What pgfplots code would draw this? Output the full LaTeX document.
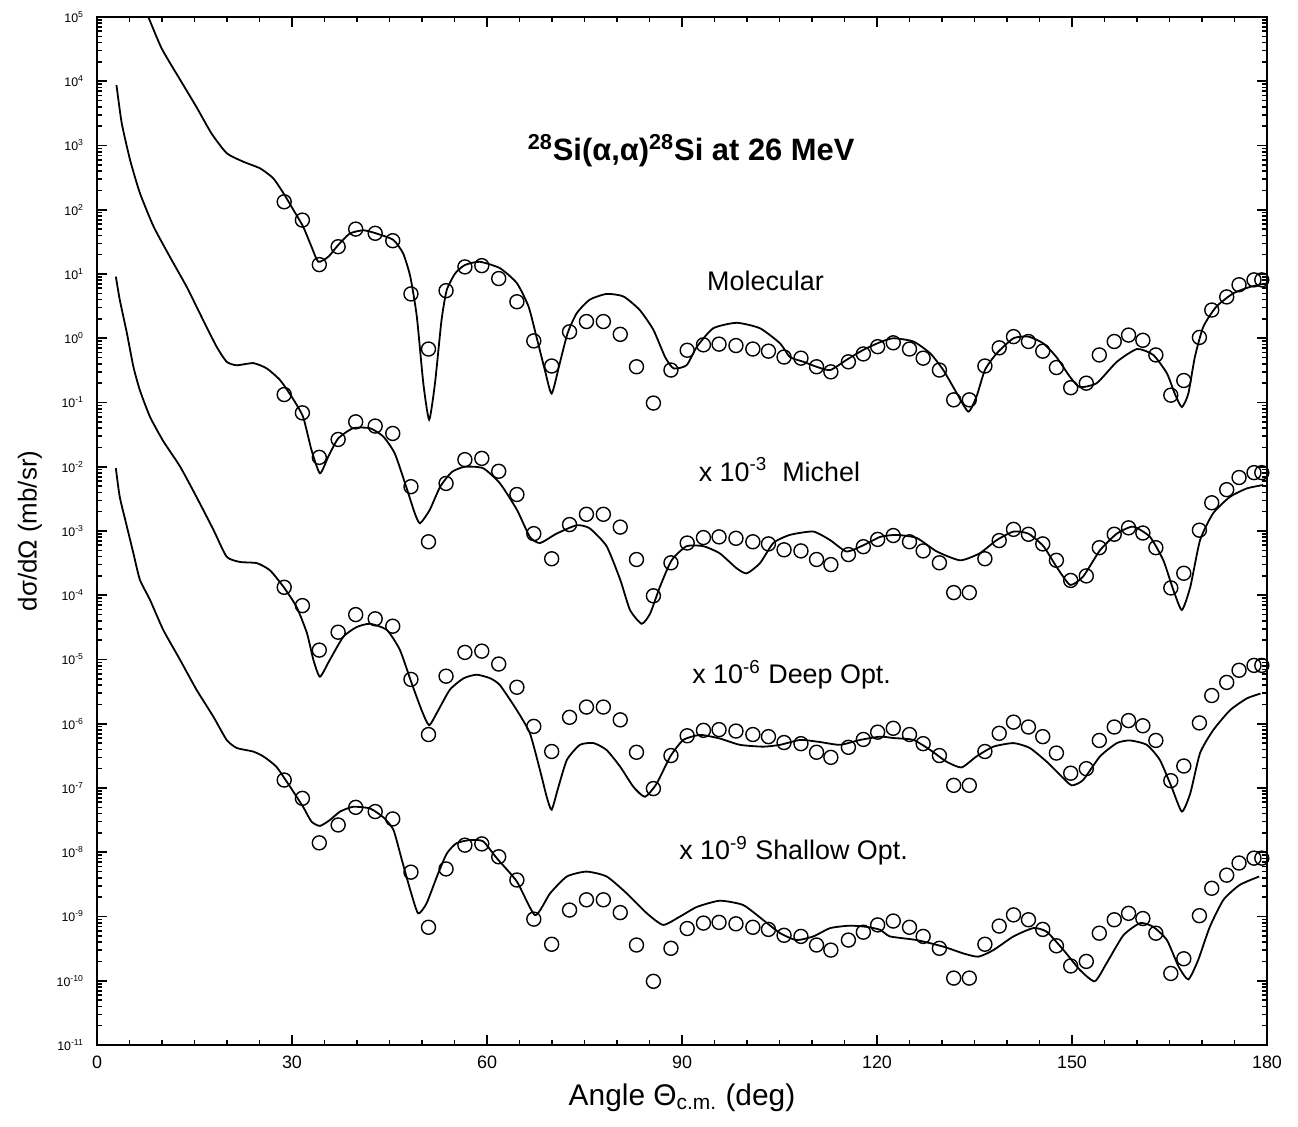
\documentclass[border=0pt]{standalone}
\usepackage{fontspec}
\setmainfont{Liberation Sans}
\usepackage{pgfplots}
\usepackage{pgfplotstable}
\pgfplotsset{compat=1.18}

% experimental data (Molecular panel, unscaled)
\pgfplotstableread[row sep=\\]{
x y\\
28.8 1.33e2\\ 31.6 6.9e1\\ 34.2 1.4e1\\ 37.1 2.66e1\\ 39.8 5.0e1\\ 42.8 4.3e1\\ 45.5 3.3e1\\ 48.3 4.9e0\\
51.0 6.8e-1\\ 53.7 5.5e0\\ 56.6 1.29e1\\ 59.2 1.35e1\\ 61.8 8.5e0\\ 64.6 3.7e0\\ 67.2 9.1e-1\\ 69.95 3.7e-1\\
72.7 1.26e0\\ 75.3 1.82e0\\ 77.9 1.82e0\\ 80.5 1.15e0\\ 83.0 3.6e-1\\ 85.6 9.8e-2\\ 88.3 3.2e-1\\ 90.8 6.5e-1\\
93.3 7.9e-1\\ 95.7 8.1e-1\\ 98.3 7.7e-1\\ 100.9 6.8e-1\\ 103.3 6.3e-1\\ 105.7 5.1e-1\\ 108.3 4.9e-1\\ 110.7 3.6e-1\\
112.9 3.0e-1\\ 115.6 4.3e-1\\ 117.9 5.7e-1\\ 120.1 7.4e-1\\ 122.5 8.5e-1\\ 125.0 6.8e-1\\ 127.1 4.9e-1\\ 129.6 3.2e-1\\
131.8 1.1e-1\\ 134.2 1.1e-1\\ 136.6 3.7e-1\\ 138.8 7.1e-1\\ 141.0 1.06e0\\ 143.3 8.9e-1\\ 145.5 6.3e-1\\ 147.6 3.5e-1\\
149.8 1.7e-1\\ 152.2 2.0e-1\\ 154.2 5.5e-1\\ 156.5 8.9e-1\\ 158.7 1.12e0\\ 160.9 9.3e-1\\ 162.9 5.5e-1\\ 165.2 1.3e-1\\
167.2 2.2e-1\\ 169.6 1.03e0\\ 171.5 2.75e0\\ 173.8 4.4e0\\ 175.7 6.8e0\\ 178.0 8.1e0\\ 179.2 8.1e0\\
}\dataA

% experimental data x 10^-3
\pgfplotstableread[row sep=\\]{
x y\\
28.8 1.33e-1\\ 31.6 6.9e-2\\ 34.2 1.4e-2\\ 37.1 2.66e-2\\ 39.8 5.0e-2\\ 42.8 4.3e-2\\ 45.5 3.3e-2\\ 48.3 4.9e-3\\
51.0 6.8e-4\\ 53.7 5.5e-3\\ 56.6 1.29e-2\\ 59.2 1.35e-2\\ 61.8 8.5e-3\\ 64.6 3.7e-3\\ 67.2 9.1e-4\\ 69.95 3.7e-4\\
72.7 1.26e-3\\ 75.3 1.82e-3\\ 77.9 1.82e-3\\ 80.5 1.15e-3\\ 83.0 3.6e-4\\ 85.6 9.8e-5\\ 88.3 3.2e-4\\ 90.8 6.5e-4\\
93.3 7.9e-4\\ 95.7 8.1e-4\\ 98.3 7.7e-4\\ 100.9 6.8e-4\\ 103.3 6.3e-4\\ 105.7 5.1e-4\\ 108.3 4.9e-4\\ 110.7 3.6e-4\\
112.9 3.0e-4\\ 115.6 4.3e-4\\ 117.9 5.7e-4\\ 120.1 7.4e-4\\ 122.5 8.5e-4\\ 125.0 6.8e-4\\ 127.1 4.9e-4\\ 129.6 3.2e-4\\
131.8 1.1e-4\\ 134.2 1.1e-4\\ 136.6 3.7e-4\\ 138.8 7.1e-4\\ 141.0 1.06e-3\\ 143.3 8.9e-4\\ 145.5 6.3e-4\\ 147.6 3.5e-4\\
149.8 1.7e-4\\ 152.2 2.0e-4\\ 154.2 5.5e-4\\ 156.5 8.9e-4\\ 158.7 1.12e-3\\ 160.9 9.3e-4\\ 162.9 5.5e-4\\ 165.2 1.3e-4\\
167.2 2.2e-4\\ 169.6 1.03e-3\\ 171.5 2.75e-3\\ 173.8 4.4e-3\\ 175.7 6.8e-3\\ 178.0 8.1e-3\\ 179.2 8.1e-3\\
}\dataB

% experimental data x 10^-6
\pgfplotstableread[row sep=\\]{
x y\\
28.8 1.33e-4\\ 31.6 6.9e-5\\ 34.2 1.4e-5\\ 37.1 2.66e-5\\ 39.8 5.0e-5\\ 42.8 4.3e-5\\ 45.5 3.3e-5\\ 48.3 4.9e-6\\
51.0 6.8e-7\\ 53.7 5.5e-6\\ 56.6 1.29e-5\\ 59.2 1.35e-5\\ 61.8 8.5e-6\\ 64.6 3.7e-6\\ 67.2 9.1e-7\\ 69.95 3.7e-7\\
72.7 1.26e-6\\ 75.3 1.82e-6\\ 77.9 1.82e-6\\ 80.5 1.15e-6\\ 83.0 3.6e-7\\ 85.6 9.8e-8\\ 88.3 3.2e-7\\ 90.8 6.5e-7\\
93.3 7.9e-7\\ 95.7 8.1e-7\\ 98.3 7.7e-7\\ 100.9 6.8e-7\\ 103.3 6.3e-7\\ 105.7 5.1e-7\\ 108.3 4.9e-7\\ 110.7 3.6e-7\\
112.9 3.0e-7\\ 115.6 4.3e-7\\ 117.9 5.7e-7\\ 120.1 7.4e-7\\ 122.5 8.5e-7\\ 125.0 6.8e-7\\ 127.1 4.9e-7\\ 129.6 3.2e-7\\
131.8 1.1e-7\\ 134.2 1.1e-7\\ 136.6 3.7e-7\\ 138.8 7.1e-7\\ 141.0 1.06e-6\\ 143.3 8.9e-7\\ 145.5 6.3e-7\\ 147.6 3.5e-7\\
149.8 1.7e-7\\ 152.2 2.0e-7\\ 154.2 5.5e-7\\ 156.5 8.9e-7\\ 158.7 1.12e-6\\ 160.9 9.3e-7\\ 162.9 5.5e-7\\ 165.2 1.3e-7\\
167.2 2.2e-7\\ 169.6 1.03e-6\\ 171.5 2.75e-6\\ 173.8 4.4e-6\\ 175.7 6.8e-6\\ 178.0 8.1e-6\\ 179.2 8.1e-6\\
}\dataC

% experimental data x 10^-9
\pgfplotstableread[row sep=\\]{
x y\\
28.8 1.33e-7\\ 31.6 6.9e-8\\ 34.2 1.4e-8\\ 37.1 2.66e-8\\ 39.8 5.0e-8\\ 42.8 4.3e-8\\ 45.5 3.3e-8\\ 48.3 4.9e-9\\
51.0 6.8e-10\\ 53.7 5.5e-9\\ 56.6 1.29e-8\\ 59.2 1.35e-8\\ 61.8 8.5e-9\\ 64.6 3.7e-9\\ 67.2 9.1e-10\\ 69.95 3.7e-10\\
72.7 1.26e-9\\ 75.3 1.82e-9\\ 77.9 1.82e-9\\ 80.5 1.15e-9\\ 83.0 3.6e-10\\ 85.6 9.8e-11\\ 88.3 3.2e-10\\ 90.8 6.5e-10\\
93.3 7.9e-10\\ 95.7 8.1e-10\\ 98.3 7.7e-10\\ 100.9 6.8e-10\\ 103.3 6.3e-10\\ 105.7 5.1e-10\\ 108.3 4.9e-10\\ 110.7 3.6e-10\\
112.9 3.0e-10\\ 115.6 4.3e-10\\ 117.9 5.7e-10\\ 120.1 7.4e-10\\ 122.5 8.5e-10\\ 125.0 6.8e-10\\ 127.1 4.9e-10\\ 129.6 3.2e-10\\
131.8 1.1e-10\\ 134.2 1.1e-10\\ 136.6 3.7e-10\\ 138.8 7.1e-10\\ 141.0 1.06e-9\\ 143.3 8.9e-10\\ 145.5 6.3e-10\\ 147.6 3.5e-10\\
149.8 1.7e-10\\ 152.2 2.0e-10\\ 154.2 5.5e-10\\ 156.5 8.9e-10\\ 158.7 1.12e-9\\ 160.9 9.3e-10\\ 162.9 5.5e-10\\ 165.2 1.3e-10\\
167.2 2.2e-10\\ 169.6 1.03e-9\\ 171.5 2.75e-9\\ 173.8 4.4e-9\\ 175.7 6.8e-9\\ 178.0 8.1e-9\\ 179.2 8.1e-9\\
}\dataD

% Molecular calculation
\pgfplotstableread[row sep=\\]{
x y\\
7.0 1.62e5\\ 7.9 1.0e5\\ 9.95 3.24e4\\ 12.8 1.05e4\\ 15.3 3.98e3\\ 17.6 1.55e3\\ 19.95 7.6e2\\ 22.5 5.6e2\\
25.1 4.4e2\\ 27.1 3.1e2\\ 28.7 1.8e2\\ 30.2 1.0e2\\ 31.7 5.5e1\\ 33.0 2.66e1\\ 34.05 1.55e1\\ 35.6 1.86e1\\
37.1 2.82e1\\ 38.9 4.27e1\\ 41.0 4.79e1\\ 43.0 4.27e1\\ 45.6 3.39e1\\ 47.1 2.09e1\\ 48.2 9.1\\ 49.2 2.19\\
50.2 2.0e-1\\ 51.1 5.4e-2\\ 52.0 2.0e-1\\ 53.0 1.9\\ 53.8 5.6\\ 55.1 1.02e1\\ 56.6 1.38e1\\ 58.9 1.55e1\\
62.0 1.23e1\\ 64.6 7.2\\ 66.4 3.1\\ 67.6 1.06\\ 68.9 3.2e-1\\ 69.95 1.38e-1\\ 71.2 4.1e-1\\ 72.4 1.2\\
73.8 2.45\\ 75.8 3.98\\ 78.4 4.9\\ 81.0 4.47\\ 83.5 2.75\\ 85.6 1.35\\ 87.4 5.1e-1\\ 88.7 3.4e-1\\
90.7 3.8e-1\\ 92.3 7.4e-1\\ 94.8 1.43\\ 98.4 1.74\\ 102.0 1.43\\ 105.1 8.3e-1\\ 106.6 5.1e-1\\ 108.7 4.3e-1\\
110.7 3.6e-1\\ 112.8 3.2e-1\\ 115.3 4.6e-1\\ 117.9 6.6e-1\\ 120.5 8.7e-1\\ 122.5 1.0\\ 125.6 8.9e-1\\ 128.2 5.8e-1\\
130.2 3.2e-1\\ 132.3 1.38e-1\\ 134.05 7.2e-2\\ 135.3 1.23e-1\\ 136.6 3.2e-1\\ 138.4 5.8e-1\\ 141.0 1.0\\ 143.3 1.06\\
145.6 8.3e-1\\ 147.6 5.1e-1\\ 149.7 2.5e-1\\ 151.2 1.74e-1\\ 153.8 2.0e-1\\ 156.9 4.3e-1\\ 160.0 6.8e-1\\ 162.5 5.5e-1\\
164.6 2.85e-1\\ 165.8 1.38e-1\\ 166.9 8.5e-2\\ 167.9 1.38e-1\\ 168.9 5.1e-1\\ 170.2 1.51\\ 172.2 3.1\\ 174.8 5.0\\
177.4 6.3\\ 179.4 7.0\\ 180.0 7.1\\
}\curveA

% Michel calculation x 10^-3
\pgfplotstableread[row sep=\\]{
x y\\
3.0 8.7e3\\ 3.8 2.24e3\\ 5.1 5.9e2\\ 6.6 1.82e2\\ 8.7 5.5e1\\ 11.2 1.86e1\\ 13.8 6.3\\ 16.35 1.9\\
18.4 7.4e-1\\ 19.95 4.3e-1\\ 21.5 3.8e-1\\ 24.05 4.1e-1\\ 26.1 3.4e-1\\ 28.15 2.24e-1\\ 29.95 1.23e-1\\ 31.7 6.0e-2\\
33.0 1.82e-2\\ 34.3 7.9e-3\\ 35.6 1.45e-2\\ 37.1 2.75e-2\\ 39.4 3.98e-2\\ 42.0 3.98e-2\\ 44.05 2.95e-2\\ 45.8 1.62e-2\\
47.4 5.5e-3\\ 48.9 1.88e-3\\ 49.7 1.32e-3\\ 51.2 2.14e-3\\ 52.8 4.9e-3\\ 54.6 8.3e-3\\ 56.6 1.0e-2\\ 59.4 9.5e-3\\
62.0 5.5e-3\\ 64.6 2.14e-3\\ 66.6 8.1e-4\\ 68.15 6.5e-4\\ 70.7 9.1e-4\\ 73.8 1.23e-3\\ 75.8 1.10e-3\\ 78.4 5.8e-4\\
80.5 1.74e-4\\ 82.0 5.9e-5\\ 83.8 3.6e-5\\ 85.1 5.2e-5\\ 86.6 1.35e-4\\ 88.4 3.5e-4\\ 90.7 5.8e-4\\ 93.3 5.8e-4\\
95.8 4.5e-4\\ 98.4 2.63e-4\\ 99.95 2.19e-4\\ 102.0 3.16e-4\\ 104.05 6.5e-4\\ 106.6 8.7e-4\\ 110.2 9.8e-4\\ 112.8 7.2e-4\\
115.3 4.8e-4\\ 117.9 6.0e-4\\ 120.5 8.1e-4\\ 123.0 8.7e-4\\ 126.1 7.8e-4\\ 129.2 4.8e-4\\ 132.8 3.5e-4\\ 135.8 4.5e-4\\
138.4 7.2e-4\\ 141.0 9.8e-4\\ 143.3 9.1e-4\\ 145.6 5.8e-4\\ 147.6 2.79e-4\\ 149.7 1.45e-4\\ 151.7 1.95e-4\\ 154.3 5.0e-4\\
156.9 9.1e-4\\ 159.4 1.17e-3\\ 162.0 8.1e-4\\ 164.05 3.5e-4\\ 165.6 1.20e-4\\ 166.9 5.9e-5\\ 168.2 1.35e-4\\ 169.7 7.2e-4\\
171.7 1.88e-3\\ 174.3 3.4e-3\\ 176.9 4.6e-3\\ 179.4 5.2e-3\\
}\curveB

% Deep optical calculation x 10^-6
\pgfplotstableread[row sep=\\]{
x y\\
2.9 9.1\\ 3.5 3.98\\ 4.6 1.2\\ 5.6 3.6e-1\\ 6.6 1.55e-1\\ 8.15 6.0e-2\\ 10.2 2.5e-2\\ 12.8 1.0e-2\\
15.3 3.4e-3\\ 17.9 1.05e-3\\ 19.95 3.98e-4\\ 22.0 3.3e-4\\ 24.6 3.16e-4\\ 26.6 2.45e-4\\ 28.7 1.35e-4\\ 30.7 6.6e-5\\
32.3 2.57e-5\\ 33.3 9.8e-6\\ 34.3 5.4e-6\\ 35.8 9.8e-6\\ 37.9 2.26e-5\\ 39.95 3.2e-5\\ 42.0 3.6e-5\\ 44.6 2.88e-5\\
46.6 1.41e-5\\ 48.4 4.3e-6\\ 49.95 1.62e-6\\ 51.1 9.5e-7\\ 52.5 1.62e-6\\ 54.3 3.4e-6\\ 56.4 5.1e-6\\ 58.4 5.8e-6\\
60.5 5.1e-6\\ 62.0 3.98e-6\\ 64.6 1.62e-6\\ 66.6 7.1e-7\\ 68.15 1.9e-7\\ 69.2 7.2e-8\\ 69.95 4.6e-8\\ 71.0 1.05e-7\\
72.3 2.75e-7\\ 74.3 4.7e-7\\ 76.4 5.0e-7\\ 78.4 3.9e-7\\ 80.5 2.14e-7\\ 82.5 1.05e-7\\ 84.3 7.3e-8\\ 86.1 1.17e-7\\
88.2 3.1e-7\\ 90.2 5.6e-7\\ 92.8 6.7e-7\\ 95.8 5.9e-7\\ 98.9 4.7e-7\\ 102.5 4.4e-7\\ 105.1 4.7e-7\\ 108.2 5.6e-7\\
111.2 5.2e-7\\ 114.3 4.7e-7\\ 117.4 5.6e-7\\ 120.5 6.3e-7\\ 122.5 6.0e-7\\ 125.6 5.6e-7\\ 128.2 3.9e-7\\ 130.7 2.57e-7\\
133.0 2.09e-7\\ 135.3 3.1e-7\\ 137.9 4.4e-7\\ 141.0 5.0e-7\\ 143.5 4.2e-7\\ 146.1 2.57e-7\\ 148.4 1.51e-7\\ 149.95 1.1e-7\\
151.7 1.33e-7\\ 154.3 3.1e-7\\ 156.9 5.0e-7\\ 158.9 5.5e-7\\ 161.5 4.7e-7\\ 163.5 2.75e-7\\ 165.3 1.05e-7\\ 166.9 4.3e-8\\
168.2 8.3e-8\\ 169.7 3.5e-7\\ 171.7 7.9e-7\\ 174.3 1.62e-6\\ 176.9 2.48e-6\\ 179.0 2.95e-6\\
}\curveC

% Shallow optical calculation x 10^-9
\pgfplotstableread[row sep=\\]{
x y\\
2.9 9.5e-3\\ 3.5 3.4e-3\\ 4.6 1.17e-3\\ 5.6 4.5e-4\\ 6.6 1.74e-4\\ 8.15 8.5e-5\\ 10.2 2.88e-5\\ 12.8 9.8e-6\\
15.3 3.4e-6\\ 17.9 1.29e-6\\ 19.95 5.6e-7\\ 21.5 4.2e-7\\ 24.0 3.7e-7\\ 25.6 3.1e-7\\ 27.6 2.14e-7\\ 29.7 1.05e-7\\
31.7 5.1e-8\\ 33.0 3.0e-8\\ 34.3 2.57e-8\\ 35.8 3.16e-8\\ 37.4 4.3e-8\\ 39.4 5.1e-8\\ 42.0 4.8e-8\\ 44.05 3.5e-8\\
45.6 2.24e-8\\ 46.9 7.6e-9\\ 48.2 2.57e-9\\ 49.4 1.12e-9\\ 50.7 1.6e-9\\ 52.3 4.2e-9\\ 53.8 9.5e-9\\ 55.3 1.38e-8\\
57.4 1.55e-8\\ 59.4 1.48e-8\\ 61.5 8.1e-9\\ 64.6 3.5e-9\\ 67.4 1.05e-9\\ 69.7 2.29e-9\\ 72.3 4.2e-9\\ 75.3 5.0e-9\\
78.4 4.2e-9\\ 81.5 2.29e-9\\ 84.6 1.12e-9\\ 87.1 7.4e-10\\ 89.7 1.0e-9\\ 92.3 1.41e-9\\ 95.8 1.76e-9\\ 99.4 1.51e-9\\
102.5 8.8e-10\\ 105.1 5.5e-10\\ 107.6 4.3e-10\\ 110.2 4.9e-10\\ 112.8 6.6e-10\\ 115.8 7.2e-10\\ 118.4 6.9e-10\\ 120.5 6.2e-10\\
122.0 4.9e-10\\ 126.1 4.3e-10\\ 130.2 3.4e-10\\ 133.3 2.66e-10\\ 135.6 2.37e-10\\ 137.9 3.0e-10\\ 141.0 4.9e-10\\ 144.05 6.6e-10\\
146.1 5.8e-10\\ 148.7 3.0e-10\\ 151.2 1.48e-10\\ 153.5 9.8e-11\\ 155.3 1.86e-10\\ 157.9 5.1e-10\\ 160.5 7.9e-10\\ 162.5 6.9e-10\\
164.6 4.3e-10\\ 166.4 1.66e-10\\ 167.9 1.05e-10\\ 169.4 2.09e-10\\ 171.2 6.9e-10\\ 173.3 1.82e-9\\ 175.8 3.1e-9\\ 178.8 4.2e-9\\
}\curveD

\begin{document}
\begin{tikzpicture}
\begin{axis}[
  name=ax, at={(0,0)}, anchor=south west,
  scale only axis, width=585bp, height=514bp,
  xmin=0, xmax=180, ymin=1e-11, ymax=1e5, ymode=log,
  clip mode=individual,
  xtick={0,30,60,90,120,150,180},
  xticklabels={0,30,60,90,120,150,180},
  minor x tick num=5,
  ytickten={-11,-10,-9,-8,-7,-6,-5,-4,-3,-2,-1,0,1,2,3,4,5},
  yticklabels={10\textsuperscript{-11},10\textsuperscript{-10},10\textsuperscript{-9},10\textsuperscript{-8},10\textsuperscript{-7},10\textsuperscript{-6},10\textsuperscript{-5},10\textsuperscript{-4},10\textsuperscript{-3},10\textsuperscript{-2},10\textsuperscript{-1},10\textsuperscript{0},10\textsuperscript{1},10\textsuperscript{2},10\textsuperscript{3},10\textsuperscript{4},10\textsuperscript{5}},
  minor ytick={
    2e-11,3e-11,4e-11,5e-11,6e-11,7e-11,8e-11,9e-11,
    2e-10,3e-10,4e-10,5e-10,6e-10,7e-10,8e-10,9e-10,
    2e-9,3e-9,4e-9,5e-9,6e-9,7e-9,8e-9,9e-9,
    2e-8,3e-8,4e-8,5e-8,6e-8,7e-8,8e-8,9e-8,
    2e-7,3e-7,4e-7,5e-7,6e-7,7e-7,8e-7,9e-7,
    2e-6,3e-6,4e-6,5e-6,6e-6,7e-6,8e-6,9e-6,
    2e-5,3e-5,4e-5,5e-5,6e-5,7e-5,8e-5,9e-5,
    2e-4,3e-4,4e-4,5e-4,6e-4,7e-4,8e-4,9e-4,
    2e-3,3e-3,4e-3,5e-3,6e-3,7e-3,8e-3,9e-3,
    2e-2,3e-2,4e-2,5e-2,6e-2,7e-2,8e-2,9e-2,
    2e-1,3e-1,4e-1,5e-1,6e-1,7e-1,8e-1,9e-1,
    2,3,4,5,6,7,8,9,
    20,30,40,50,60,70,80,90,
    200,300,400,500,600,700,800,900,
    2e3,3e3,4e3,5e3,6e3,7e3,8e3,9e3,
    2e4,3e4,4e4,5e4,6e4,7e4,8e4,9e4},
  tick pos=both, tick align=inside,
  major tick length=5bp, minor tick length=2.5bp,
  axis line style={line width=1bp},
  tick style={line width=0.8bp, black},
  xticklabel style={font=\fontsize{9}{10}\selectfont, yshift=-2bp},
  yticklabel style={font=\fontsize{6.2}{7}\selectfont, xshift=-3bp},
]
\addplot[black, line width=0.9bp, smooth, tension=0.35] table[x=x,y=y] {\curveA};
\addplot[black, line width=0.9bp, smooth, tension=0.35] table[x=x,y=y] {\curveB};
\addplot[black, line width=0.9bp, smooth, tension=0.35] table[x=x,y=y] {\curveC};
\addplot[black, line width=0.9bp, smooth, tension=0.35] table[x=x,y=y] {\curveD};
\addplot[only marks, mark=o, mark size=3.5bp, mark options={line width=0.7bp, black}] table[x=x,y=y] {\dataA};
\addplot[only marks, mark=o, mark size=3.5bp, mark options={line width=0.7bp, black}] table[x=x,y=y] {\dataB};
\addplot[only marks, mark=o, mark size=3.5bp, mark options={line width=0.7bp, black}] table[x=x,y=y] {\dataC};
\addplot[only marks, mark=o, mark size=3.5bp, mark options={line width=0.7bp, black}] table[x=x,y=y] {\dataD};

\node[anchor=base west, font=\fontsize{15.5}{18}\selectfont\bfseries] at (axis cs:65.2,5.9e2) {\textsuperscript{28}Si(α,α)\textsuperscript{28}Si at 26 MeV};
\node[anchor=base west, font=\fontsize{13.5}{16}\selectfont] at (axis cs:92.8,5.6) {Molecular};
\node[anchor=base west, font=\fontsize{13.5}{16}\selectfont] at (axis cs:91.5,6.0e-3) {x 10\textsuperscript{-3}\ \ Michel};
\node[anchor=base west, font=\fontsize{13.5}{16}\selectfont] at (axis cs:90.5,4.2e-6) {x 10\textsuperscript{-6} Deep Opt.};
\node[anchor=base west, font=\fontsize{13.5}{16}\selectfont] at (axis cs:88.5,7.6e-9) {x 10\textsuperscript{-9} Shallow Opt.};
\end{axis}
\node[anchor=base, font=\fontsize{15}{18}\selectfont] at ([shift={(0bp,-30bp)}]ax.south) {Angle Θ\textsubscript{c.m.} (deg)};
\node[rotate=90, anchor=center, font=\fontsize{13}{15}\selectfont] at ([shift={(-33.5bp,0bp)}]ax.west) {dσ/dΩ (mb/sr)};
\pgfresetboundingbox
\path[use as bounding box] ([shift={(-48.5bp,-41bp)}]ax.south west) rectangle ([shift={(15.5bp,8.5bp)}]ax.north east);
\end{tikzpicture}
\end{document}
